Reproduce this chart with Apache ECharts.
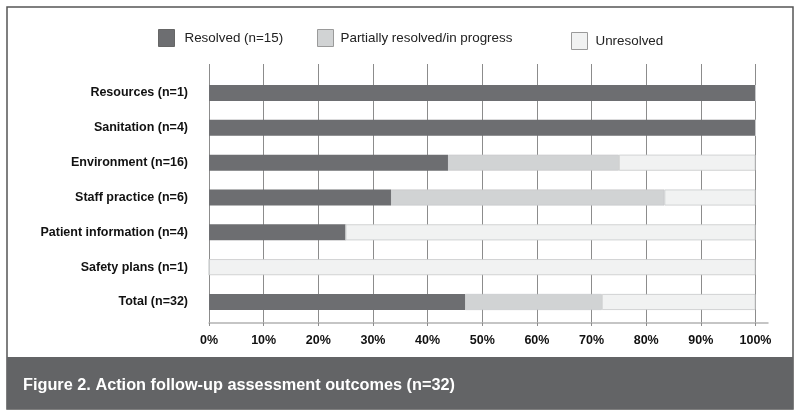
<!DOCTYPE html>
<html lang="en">
<head>
  <meta charset="UTF-8">
  <title>Action follow-up assessment outcomes</title>
  <style>
    html, body { margin: 0; padding: 0; background: #fff; }
  </style>
</head>
<body>
  <div id="main" style="width: 800px;height:417px;"></div>

  <script src="https://cdn.jsdelivr.net/npm/echarts@6.0.0/dist/echarts.min.js"></script>
  <script type="text/javascript">
    // data (share of actions, %)
    var categories = ['Resources (n=1)', 'Sanitation (n=4)', 'Environment (n=16)', 'Staff practice (n=6)',
      'Patient information (n=4)', 'Safety plans (n=1)', 'Total (n=32)'];
    var resolved = [100, 100, 43.75, 33.33, 25, 0, 46.88];
    var partial = [0, 0, 31.25, 50, 0, 0, 25];
    var unresolved = [0, 0, 25, 16.67, 75, 100, 28.12];
    var seriesNames = ['Resolved (n=15)', 'Partially resolved/in progress', 'Unresolved'];
    var xTicks = [0, 100, 10]; // min, max, interval

    var BOLD = '"Liberation Sans", Arial, sans-serif';
    var REG = '"Liberation Sans", Arial, sans-serif';
    var colors = ['#6d6e71', '#d1d3d4', '#f1f2f2'];

    var myChart = echarts.init(document.getElementById('main'));

    function legendAt(i, left, top, gap) {
      return {
        data: [{ name: seriesNames[i], itemStyle: { borderColor: i === 0 ? '#666' : '#9a9a9a', borderWidth: 1 } }],
        left: left,
        top: top,
        padding: 0,
        icon: 'rect',
        itemWidth: 16,
        itemHeight: 17,
        selectedMode: false,
        textStyle: { fontFamily: REG, fontSize: 13.4, color: '#222', padding: [0, 0, 0, gap] }
      };
    }

    var option = {
      animation: false,
      graphic: [
        { type: 'rect', shape: { x: 7, y: 7, width: 786, height: 402 }, style: { fill: 'none', stroke: '#555', lineWidth: 1.5 } },
        { type: 'rect', shape: { x: 7, y: 357, width: 786, height: 52 }, style: { fill: '#636466' } }
      ],
      title: {
        text: 'Figure 2. Action follow-up assessment outcomes (n=32)',
        left: 23,
        top: 378,
        padding: 0,
        textStyle: { color: '#fff', fontFamily: BOLD, fontWeight: 'bold', fontSize: 16.3 }
      },
      legend: [
        legendAt(0, 158, 29, 5),
        legendAt(1, 317, 29, 2),
        legendAt(2, 571, 32, 3)
      ],
      grid: [
        // grid lines and tick labels
        { left: 209, width: 546.5, top: 64, height: 259, containLabel: false, outerBoundsMode: 'none' },
        // bars
        { left: 209, width: 546.5, top: 75.6, height: 243.8, containLabel: false, outerBoundsMode: 'none' },
        // axis line (runs a little past 100%)
        { left: 209, width: 559, top: 64, height: 259, containLabel: false, outerBoundsMode: 'none' }
      ],
      xAxis: [
        {
          gridIndex: 0, type: 'value', min: xTicks[0], max: xTicks[1], interval: xTicks[2],
          axisLine: { show: false },
          axisTick: { show: true, length: 3, lineStyle: { color: '#8c8c8c' } },
          splitLine: { show: true, lineStyle: { color: '#8c8c8c', width: 1 } },
          axisLabel: { formatter: '{value}%', margin: 11, color: '#111', fontFamily: BOLD, fontWeight: 'bold', fontSize: 12.5 }
        },
        {
          gridIndex: 1, type: 'value', min: xTicks[0], max: xTicks[1], show: false
        },
        {
          gridIndex: 2, type: 'value', min: 0, max: 1,
          axisLine: { show: true, lineStyle: { color: '#b3b3b3', width: 1.5 } },
          axisTick: { show: false }, axisLabel: { show: false }, splitLine: { show: false }
        }
      ],
      yAxis: [
        { gridIndex: 0, type: 'value', show: false },
        {
          gridIndex: 1, type: 'category', inverse: true, data: categories,
          axisLine: { show: false }, axisTick: { show: false },
          axisLabel: { margin: 21, color: '#111', fontFamily: BOLD, fontWeight: 'bold', fontSize: 12.5 }
        },
        { gridIndex: 2, type: 'value', show: false }
      ],
      series: [
        {
          name: seriesNames[0], type: 'bar', stack: 'all', xAxisIndex: 1, yAxisIndex: 1,
          barWidth: 16, itemStyle: { color: colors[0] }, data: resolved
        },
        {
          name: seriesNames[1], type: 'bar', stack: 'all', xAxisIndex: 1, yAxisIndex: 1,
          barWidth: 16, itemStyle: { color: colors[1], borderColor: '#c4c6c7', borderWidth: 0.6 }, data: partial
        },
        {
          name: seriesNames[2], type: 'bar', stack: 'all', xAxisIndex: 1, yAxisIndex: 1,
          barWidth: 16, itemStyle: { color: colors[2], borderColor: '#c8c9ca', borderWidth: 0.8 }, data: unresolved
        }
      ]
    };

    myChart.setOption(option);
  </script>
</body>
</html>
